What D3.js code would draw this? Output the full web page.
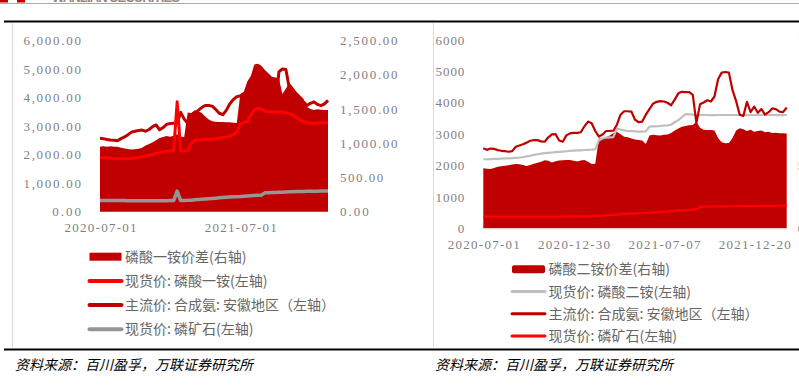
<!DOCTYPE html>
<html><head><meta charset="utf-8">
<script src="https://cdn.jsdelivr.net/npm/d3@7"></script>
<style>
html,body{margin:0;padding:0;background:#fff;overflow:hidden}
svg{display:block}
</style></head><body>
<svg id="c" width="799" height="385"></svg>
<script>
// ---------- LEFT CHART DATA (磷酸一铵) ----------
const leftTickIdx = [0, 40];
const leftTickLabels = ["2020-07-01", "2021-07-01"];
const leftLeftTicks = [0, 1000, 2000, 3000, 4000, 5000, 6000];
const leftRightTicks = [0, 500, 1000, 1500, 2000, 2500];
// 磷酸一铵价差 (右轴)
const leftSpread = [949,955,950,955,950,948,935,922,915,910,
  912,918,935,965,990,1015,1045,1075,1090,1105,
  1095,1110,1130,1095,1090,1450,1440,1480,1470,1440,
  1390,1345,1320,1315,1310,1310,1305,1305,1300,1295,
  1720,1750,1900,1980,2150,2160,2130,2070,2020,1970,
  1960,1950,1720,1800,1880,1820,1750,1700,1650,1530,
  1500,1485,1495,1490,1485,1485];
// 现货价: 磷酸一铵 (左轴)
const leftMAP = [1900,1890,1880,1870,1860,1860,1860,1860,1860,1870,
  1880,1900,1930,1950,1980,2010,2050,2070,2090,2110,
  2130,2140,3850,2130,2120,2150,2380,2500,2510,2520,
  2530,2540,2540,2560,2580,2600,2620,2650,2700,2780,
  3060,3120,3160,3380,3560,3630,3600,3530,3500,3500,
  3490,3490,3480,3470,3430,3390,3300,3220,3160,3120,
  3100,3090,3100,3120,3120,3120];
// 主流价: 合成氨: 安徽地区 (左轴)
const leftAmmonia = [2570,2560,2530,2510,2500,2490,2560,2620,2700,2790,
  2820,2850,2860,2820,2880,2980,3040,2870,2950,3060,
  3090,3100,3100,3480,3250,3100,3250,3450,3550,3650,
  3720,3720,3700,3580,3450,3400,3550,3780,3930,4030,
  4060,4080,4090,4060,4150,4270,4320,4320,4300,4290,
  3600,4900,5000,4980,4300,4100,3700,3600,3850,3720,
  3800,3850,3760,3720,3780,3900];
// 现货价: 磷矿石 (左轴)
const leftRock = [395,395,393,392,390,390,390,390,388,388,
  388,388,388,388,387,387,387,388,388,388,
  390,390,720,392,395,398,405,415,425,435,
  445,455,465,475,485,495,505,515,520,525,
  530,540,550,560,570,575,580,660,665,670,
  675,680,685,690,695,700,705,710,712,715,
  718,720,720,722,724,725];

// ---------- RIGHT CHART DATA (磷酸二铵) ----------
const rightTickIdx = [0, 25, 50, 75];
const rightTickLabels = ["2020-07-01", "2020-12-30", "2021-07-07", "2021-12-20"];
const rightLeftTicks = [0, 1000, 2000, 3000, 4000, 5000, 6000];
const rightRightTicks = [0, 500, 1000, 1500];
// 磷酸二铵价差 (右轴)
const rightSpread = [478,475,473,480,490,495,498,502,508,512,
  510,505,496,505,515,523,530,542,538,525,
  535,540,542,545,544,538,532,540,545,530,
  512,515,715,720,725,740,757,770,750,730,
  725,715,708,703,700,672,740,745,742,740,
  745,748,760,780,795,808,815,820,822,849,
  800,785,783,783,780,720,685,677,680,720,
  780,797,790,775,785,770,775,780,765,770,
  760,762,758,757,755];
// 现货价: 磷酸二铵 (左轴)
const rightDAP = [2200,2200,2205,2210,2215,2220,2225,2230,2235,2245,
  2255,2270,2290,2310,2340,2360,2380,2395,2405,2415,
  2425,2435,2445,2455,2465,2475,2480,2485,2495,2500,
  2505,2515,2800,2860,2890,2900,2905,3180,3150,3120,
  3100,3095,3090,3080,3080,3090,3240,3250,3250,3260,
  3270,3280,3300,3380,3450,3540,3640,3630,3620,3610,
  3610,3610,3610,3605,3605,3610,3610,3610,3610,3610,
  3610,3610,3605,3605,3610,3610,3610,3610,3610,3610,
  3610,3610,3605,3605,3610];
// 主流价: 合成氨: 安徽地区 (左轴)
const rightAmmonia = [2550,2500,2540,2530,2490,2470,2460,2440,2460,2600,
  2640,2680,2730,2790,2810,2810,2770,2760,2900,2990,
  3000,2800,2760,2960,3025,3040,3040,3060,3250,3400,
  3350,3100,2920,2990,3100,3100,3110,3300,3620,3730,
  3730,3720,3460,3380,3400,3620,3800,3970,4030,4050,
  4040,4000,3920,4100,4300,4350,4340,4340,4250,3350,
  3950,4010,4080,4040,4200,4750,4960,4980,4960,4400,
  4050,3620,3580,4030,3700,3880,3680,3800,3620,3700,
  3820,3800,3720,3700,3850];
// 现货价: 磷矿石 (左轴)
const rightRock = [370,370,370,370,370,370,370,370,370,372,
  372,372,372,373,373,373,374,374,375,375,
  376,376,377,378,378,380,380,382,383,385,
  388,392,398,405,412,420,428,435,442,450,
  458,465,472,480,488,495,502,510,518,525,
  532,540,548,555,562,570,578,585,595,605,
  688,690,692,694,695,697,698,700,702,703,
  705,706,707,708,710,711,712,713,714,715,
  716,717,718,719,720];

// ---------- DRAWING ----------
const svg = d3.select("#c");
const CJK = "'Noto Sans CJK SC','Noto Sans',sans-serif";
const NUM = "'Liberation Serif','DejaVu Serif',serif";
const DARK = "#C00000", RED = "#FF0000";

// header
svg.append("rect").attr("x",0).attr("y",0).attr("width",8).attr("height",2.5).attr("fill",DARK);
svg.append("rect").attr("x",17).attr("y",0).attr("width",8).attr("height",2.5).attr("fill",DARK);
svg.append("text").attr("x",52).attr("y",2).text("WANLIAN SECURITIES")
  .attr("font-family","'Liberation Sans',sans-serif").attr("font-weight","bold")
  .attr("font-size",13).attr("fill","#8c8c8c").attr("textLength",128);
svg.append("line").attr("x1",0).attr("x2",799).attr("y1",3.5).attr("y2",3.5)
  .attr("stroke","#D49A9A").attr("stroke-width",1);
svg.append("line").attr("x1",4).attr("x2",799).attr("y1",21.5).attr("y2",21.5)
  .attr("stroke","#000").attr("stroke-width",2);
[12.5, 433.5].forEach(x => svg.append("line").attr("x1",x).attr("x2",x).attr("y1",23).attr("y2",347)
  .attr("stroke","#D9D9D9").attr("stroke-width",1));
svg.append("line").attr("x1",4).attr("x2",799).attr("y1",349.5).attr("y2",349.5)
  .attr("stroke","#000").attr("stroke-width",2);
[15, 435].forEach(x => svg.append("text").attr("x",x).attr("y",370)
  .text("资料来源：百川盈孚，万联证券研究所")
  .attr("font-family",CJK).attr("font-size",14).attr("font-style","italic").attr("fill","#000"));

function styleAxis(g){
  g.select(".domain").remove();
  g.selectAll(".tick line").remove();
  g.selectAll("text").attr("font-family",NUM).attr("font-size",13).attr("fill","#7f7f7f")
    .each(function(){ const t=d3.select(this); t.attr("textLength", t.text().length*7.2).attr("lengthAdjust","spacing"); });
}

function drawChart(o){
  const g = svg.append("g");
  const x = d3.scaleLinear().domain([0, o.spread.length-1]).range([o.x0, o.x1]);
  const yl = d3.scaleLinear().domain([0, o.lmax]).range([o.yb, o.yt]);
  const yr = d3.scaleLinear().domain([0, o.rmax]).range([o.yb, o.yt]);
  // area
  g.append("path").datum(o.spread)
    .attr("d", d3.area().x((d,i)=>x(i)).y0(yr(0)).y1(d=>yr(d)))
    .attr("fill", DARK);
  if (o.baseline) {
    g.append("line").attr("x1",o.x0).attr("x2",o.x1).attr("y1",o.yb+0.5).attr("y2",o.yb+0.5)
      .attr("stroke","#D9D9D9").attr("stroke-width",1);
  }
  o.lines.forEach(s => {
    g.append("path").datum(s.data)
      .attr("d", d3.line().x((d,i)=>x(i)).y(d=>yl(d)))
      .attr("fill","none").attr("stroke", s.color).attr("stroke-width", s.w)
      .attr("stroke-linejoin","round");
  });
  // axes
  const fmt = o.fmt;
  g.append("g").attr("transform",`translate(${o.x0},0)`)
    .call(d3.axisLeft(yl).tickValues(o.lticks).tickSize(0).tickPadding(o.lpad).tickFormat(fmt))
    .call(styleAxis);
  g.append("g").attr("transform",`translate(${o.x1},0)`)
    .call(d3.axisRight(yr).tickValues(o.rticks).tickSize(0).tickPadding(o.rpad).tickFormat(fmt))
    .call(styleAxis);
  g.append("g").attr("transform",`translate(0,${o.yb})`)
    .call(d3.axisBottom(x).tickValues(o.xticks).tickSize(0).tickPadding(o.bpad)
      .tickFormat((d,i)=>o.xlabels[i]))
    .call(styleAxis);
  // legend
  o.legend.forEach((L,i) => {
    const y = o.legY + i*o.legDy;
    if (L.type === "area") {
      g.append("rect").attr("x",o.legX).attr("y",y-4).attr("width",o.legW).attr("height",8)
        .attr("rx",L.rx||0).attr("fill",L.color);
    } else {
      g.append("line").attr("x1",o.legX).attr("x2",o.legX+o.legW).attr("y1",y).attr("y2",y)
        .attr("stroke",L.color).attr("stroke-width",L.w).attr("stroke-linecap","round");
    }
    g.append("text").attr("x",o.legX+o.legW+3.5).attr("y",y+5).text(L.label)
      .attr("font-family",CJK).attr("font-size",14).attr("fill","#666");
  });
}

drawChart({
  spread: leftSpread, x0:100, x1:328, yb:211.7, yt:40.5, lmax:6000, rmax:2500,
  lticks:leftLeftTicks, rticks:leftRightTicks, fmt:d3.format(",.2f"),
  lpad:19, rpad:12, bpad:10.6, xticks:leftTickIdx, xlabels:leftTickLabels, baseline:false,
  lines:[
    {data:leftAmmonia, color:DARK, w:3},
    {data:leftMAP, color:RED, w:3},
    {data:leftRock, color:"#969696", w:3.5}
  ],
  legX:89.5, legW:32, legY:256.7, legDy:24.2,
  legend:[
    {type:"area", color:DARK, label:"磷酸一铵价差(右轴)"},
    {type:"line", color:RED, w:4, label:"现货价: 磷酸一铵(左轴)"},
    {type:"line", color:DARK, w:4, label:"主流价: 合成氨: 安徽地区（左轴）"},
    {type:"line", color:"#969696", w:4, label:"现货价: 磷矿石(左轴)"}
  ]
});

drawChart({
  spread: rightSpread, x0:483.3, x1:786.7, yb:228.3, yt:40, lmax:6000, rmax:1500,
  lticks:rightLeftTicks, rticks:rightRightTicks, fmt:d3.format("d"),
  lpad:19, rpad:11, bpad:11.5, xticks:rightTickIdx, xlabels:rightTickLabels, baseline:true,
  lines:[
    {data:rightRock, color:RED, w:2.2},
    {data:rightDAP, color:"#BFBFBF", w:2.2},
    {data:rightAmmonia, color:DARK, w:2.2}
  ],
  legX:512, legW:33, legY:269.3, legDy:22.2,
  legend:[
    {type:"area", color:DARK, rx:2, label:"磷酸二铵价差(右轴)"},
    {type:"line", color:"#BFBFBF", w:3, label:"现货价: 磷酸二铵(左轴)"},
    {type:"line", color:DARK, w:3, label:"主流价: 合成氨: 安徽地区（左轴）"},
    {type:"line", color:RED, w:3, label:"现货价: 磷矿石(左轴)"}
  ]
});
</script>
</body></html>
